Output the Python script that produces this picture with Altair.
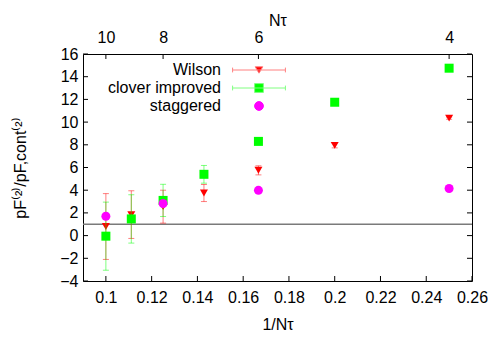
import altair as alt
import pandas as pd

# ---- data ----
series_names = ["Wilson", "clover improved", "staggered"]
series_colors = ["#ff0000", "#00ff00", "#ff00ff"]
series_line_colors = ["#ff8080", "#80ff80", "#ff00ff"]

wilson_nt = [10, 9, 8, 7, 6, 5, 4]
wilson_y = [0.8, 1.85, 2.55, 3.75, 5.75, 7.95, 10.35]
wilson_err = [2.9, 2.1, 1.45, 0.75, 0.4, 0.22, 0.1]

clover_nt = [10, 9, 8, 7, 6, 5, 4]
clover_y = [-0.05, 1.47, 3.1, 5.4, 8.3, 11.75, 14.75]
clover_err = [3.0, 2.13, 1.42, 0.78, 0.25, 0.15, 0.12]

stag_nt = [10, 8, 6, 4]
stag_y = [1.7, 2.83, 3.99, 4.15]

x_label_values = [0.1, 0.12, 0.14, 0.16, 0.18, 0.2, 0.22, 0.24, 0.26]
y_label_values = [-4, -2, 0, 2, 4, 6, 8, 10, 12, 14, 16]
top_nt = [10, 8, 6, 4]
reference_level = [1]

W, H = 389, 227
FONT = "Liberation Sans"
xscale = alt.Scale(domain=[0.09, 0.26], nice=False, zero=False)
yscale = alt.Scale(domain=[-4, 16], nice=False, zero=False)


def frame(nt, y, err=None):
    d = pd.DataFrame({"nt": nt, "y": y})
    d["x"] = 1.0 / d["nt"]
    if err is not None:
        d["lo"] = [a - b for a, b in zip(y, err)]
        d["hi"] = [a + b for a, b in zip(y, err)]
    return d


wil = frame(wilson_nt, wilson_y, wilson_err)
clo = frame(clover_nt, clover_y, clover_err)
stg = frame(stag_nt, stag_y)

# legend symbol paths (line with caps + marker), unit = sqrt(size)/2
line = "M-6.6,0L6.6,0M-6.6,-0.6L-6.6,0.6M6.6,-0.6L6.6,0.6"
leg_paths = [
    line + "M-0.95,-0.8L0.95,-0.8L0,0.8Z",
    line + "M-1.1,-1.1L1.1,-1.1L1.1,1.1L-1.1,1.1Z",
    "M-1.1,0A1.1,1.1,0,1,0,1.1,0A1.1,1.1,0,1,0,-1.1,0Z",
]
leg_df = pd.DataFrame({"series": series_names, "x": [0.2, 0.2, 0.2], "y": [0, 0, 0]})

# ---- layers ----
hline = alt.Chart(pd.DataFrame({"v": reference_level})).mark_rule(
    color="#7a7a7a", strokeWidth=1.5
).encode(y=alt.Y("v:Q", scale=yscale, axis=None))


def bars(d, color):
    return alt.Chart(d).mark_errorbar(
        ticks=True, size=6, thickness=1, color=color, opacity=0.5
    ).encode(
        x=alt.X("x:Q", scale=xscale, axis=None),
        y=alt.Y("lo:Q", scale=yscale, axis=None),
        y2="hi:Q",
    )


def pts(d, color, shape, size):
    return alt.Chart(d).mark_point(
        filled=True, shape=shape, size=size, color=color, opacity=1, strokeWidth=0
    ).encode(
        x=alt.X("x:Q", scale=xscale, axis=None),
        y=alt.Y("y:Q", scale=yscale, axis=None),
    )


leg = alt.Legend(
    title=None, orient="none", legendX=168, legendY=8,
    labelFontSize=16, labelFont=FONT, labelColor="black", labelAlign="right",
    labelOffset={"expr": "-46"}, symbolSize=64, symbolStrokeWidth=1, symbolOpacity=1,
    rowPadding=2, padding=0, labelLimit=0,
)
legend_layer = alt.Chart(leg_df).mark_point(opacity=0, size=64).encode(
    x=alt.X("x:Q", scale=xscale, axis=None),
    y=alt.Y("y:Q", scale=yscale, axis=None),
    fill=alt.Fill("series:N", scale=alt.Scale(domain=series_names, range=series_colors), legend=leg),
    stroke=alt.Stroke("series:N", scale=alt.Scale(domain=series_names, range=series_line_colors), legend=leg),
    shape=alt.Shape("series:N", scale=alt.Scale(domain=series_names, range=leg_paths), legend=leg),
)

bottom_axis = alt.Axis(
    orient="bottom", values=x_label_values, format="~g", ticks=False, domain=False,
    grid=False, labelFontSize=16, labelPadding=8, labelFont=FONT, labelColor="black",
    labelOverlap=False, labelFlush=False,
    title="1/N\u03c4", titleFontSize=16, titleFont=FONT, titleFontWeight="normal",
    titleColor="black", titleY=43, titleBaseline="middle",
)
top_axis = alt.Axis(
    orient="top", values=[1.0 / n for n in top_nt],
    labelExpr="'' + round(1/datum.value)", ticks=False, domain=False, grid=False,
    labelFontSize=16, labelPadding=9, labelFont=FONT, labelColor="black",
    labelOverlap=False, labelFlush=False,
    title="N\u03c4", titleFontSize=16, titleFont=FONT, titleFontWeight="normal",
    titleColor="black", titleY=-34, titleBaseline="middle",
)
left_axis = alt.Axis(
    orient="left", values=y_label_values, ticks=False, domain=False, grid=False,
    labelFontSize=16, labelPadding=5, labelFont=FONT, labelColor="black",
    labelOverlap=False, labelFlush=False,
    title="pF\u207d\u00b2\u207e/pF,cont\u207d\u00b2\u207e", titleFontSize=16,
    titleFont=FONT, titleFontWeight="normal", titleColor="black",
    titleX=-63, titleBaseline="middle",
)

xt = pd.DataFrame({"v": x_label_values})
yt = pd.DataFrame({"v": y_label_values})
tt = pd.DataFrame({"nt": top_nt})
tt["x"] = 1.0 / tt["nt"]

bottom_ticks = alt.Chart(xt).mark_rule(color="black").encode(
    x=alt.X("v:Q", scale=xscale, axis=bottom_axis), y=alt.value(H), y2=alt.value(H - 5)
)
top_ticks = alt.Chart(tt).mark_rule(color="black").encode(
    x=alt.X("x:Q", scale=xscale, axis=top_axis), y=alt.value(0), y2=alt.value(5)
)
left_ticks = alt.Chart(yt).mark_rule(color="black").encode(
    y=alt.Y("v:Q", scale=yscale, axis=left_axis), x=alt.value(0), x2=alt.value(5)
)
right_ticks = alt.Chart(yt).mark_rule(color="black").encode(
    y=alt.Y("v:Q", scale=yscale, axis=None), x=alt.value(W), x2=alt.value(W - 5)
)

chart = alt.layer(
    hline,
    bars(wil, series_colors[0]),
    pts(wil, series_colors[0], "triangle-down", 64),
    bars(clo, series_colors[1]),
    pts(clo, series_colors[1], "square", 81),
    pts(stg, series_colors[2], "circle", 81),
    legend_layer,
    bottom_ticks, top_ticks, left_ticks, right_ticks,
).resolve_axis(x="independent", y="independent").properties(
    width=W, height=H,
    padding={"left": 75, "top": 46, "right": 16, "bottom": 56},
    autosize=alt.AutoSizeParams(type="none"),
).configure(font=FONT).configure_view(stroke="black", strokeWidth=1)

chart.save("out.html", embed_options={"renderer": "svg", "actions": False})
